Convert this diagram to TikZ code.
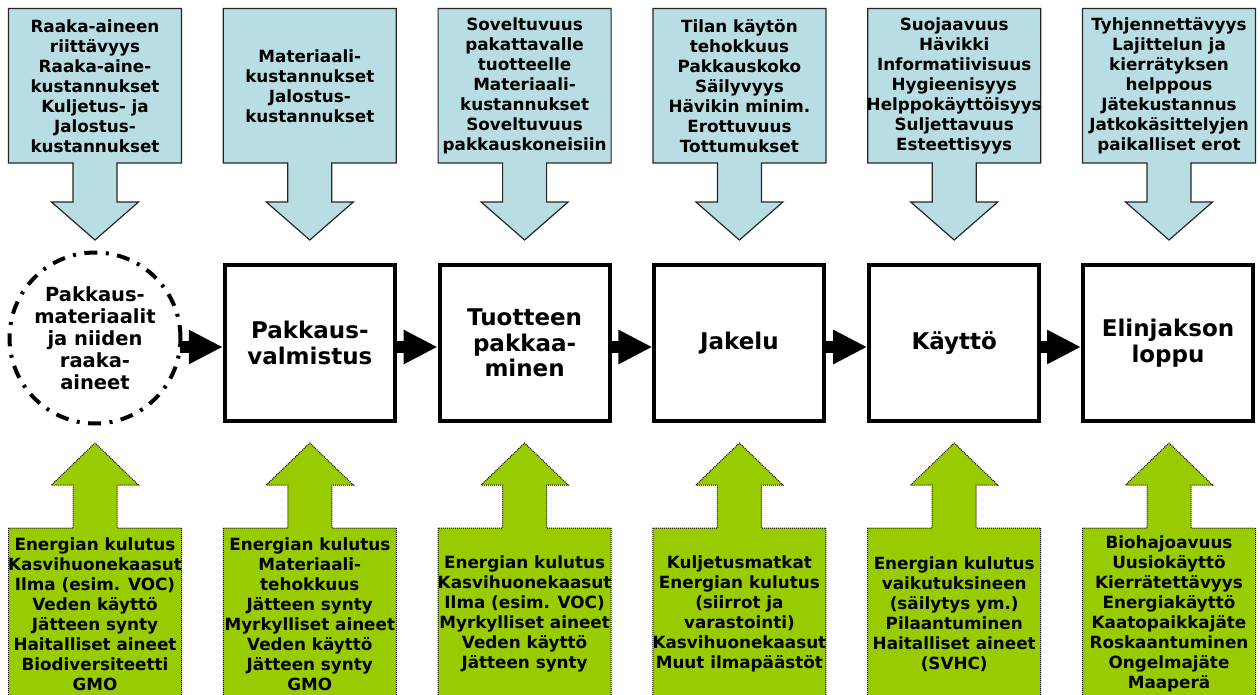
\documentclass[tikz,border=0pt]{standalone}
\usepackage{fontspec}
\setmainfont{DejaVu Sans}
\usetikzlibrary{arrows.meta}
\definecolor{callblue}{RGB}{184,222,228}
\definecolor{callgreen}{RGB}{153,204,0}
\tikzset{
  topcall/.style={fill=callblue, draw=black!85, line width=1.2pt},
  botcall/.style={fill=callgreen, draw=black, line width=1pt, dash pattern=on 1pt off 1pt},
  calltext/.style={align=center, font=\fontsize{16.8}{20}\selectfont\bfseries, inner sep=0pt},
  stage/.style={draw, line width=4pt, minimum width=170pt, minimum height=156pt, align=center, font=\fontsize{23}{25.5}\selectfont\bfseries, fill=white, inner sep=0pt},
  startcirc/.style={circle, draw, line width=4pt, dash pattern=on 13pt off 8.5pt on 3pt off 8.5pt, minimum size=171pt, align=center, font=\fontsize{19.5}{22}\selectfont\bfseries, inner sep=0pt},
  flow/.style={line width=12pt, -{Triangle[length=34pt, width=32pt]}},
}
\newcommand\topcallout[3]{%
  \draw[topcall] (#1-86.5,8.5) -- (#1+86.5,8.5) -- (#1+86.5,163) -- (#1+22,163) -- (#1+22,202) -- (#1+43.5,202) -- (#1,240) -- (#1-43.5,202) -- (#1-22,202) -- (#1-22,163) -- (#1-86.5,163) -- cycle;
  \node[calltext] (#2) at (#1,86) {#3};
}
\newcommand\botcallout[3]{%
  \draw[botcall] (#1-86.5,705) -- (#1-86.5,528) -- (#1-22,528) -- (#1-22,485) -- (#1-43.5,485) -- (#1,443) -- (#1+43.5,485) -- (#1+22,485) -- (#1+22,528) -- (#1+86.5,528) -- (#1+86.5,705) -- cycle;
  \node[calltext] (#2) at (#1,614) {#3};
}
\begin{document}
\begin{tikzpicture}[x=1pt, y=-1pt]
\useasboundingbox (0,0) rectangle (1260,695);
\clip (0,0) rectangle (1260,695);
\fill[white] (0,0) rectangle (1260,695);
% top callouts
\topcallout{95}{t0}{Raaka-aineen\\riittävyys\\Raaka-aine-\\kustannukset\\Kuljetus- ja\\Jalostus-\\kustannukset}
\topcallout{309.8}{t1}{Materiaali-\\kustannukset\\Jalostus-\\kustannukset}
\topcallout{524.6}{t2}{Soveltuvuus\\pakattavalle\\tuotteelle\\Materiaali-\\kustannukset\\Soveltuvuus\\pakkauskoneisiin}
\topcallout{739.4}{t3}{Tilan käytön\\tehokkuus\\Pakkauskoko\\Säilyvyys\\Hävikin minim.\\Erottuvuus\\Tottumukset}
\topcallout{954.2}{t4}{Suojaavuus\\Hävikki\\Informatiivisuus\\Hygieenisyys\\Helppokäyttöisyys\\Suljettavuus\\Esteettisyys}
\topcallout{1169}{t5}{Tyhjennettävyys\\Lajittelun ja\\kierrätyksen\\helppous\\Jätekustannus\\Jatkokäsittelyjen\\paikalliset erot}
% bottom callouts
\botcallout{95}{b0}{Energian kulutus\\Kasvihuonekaasut\\Ilma (esim. VOC)\\Veden käyttö\\Jätteen synty\\Haitalliset aineet\\Biodiversiteetti\\GMO}
\botcallout{309.8}{b1}{Energian kulutus\\Materiaali-\\tehokkuus\\Jätteen synty\\Myrkylliset aineet\\Veden käyttö\\Jätteen synty\\GMO}
\botcallout{524.6}{b2}{Energian kulutus\\Kasvihuonekaasut\\Ilma (esim. VOC)\\Myrkylliset aineet\\Veden käyttö\\Jätteen synty}
\botcallout{739.4}{b3}{Kuljetusmatkat\\Energian kulutus\\(siirrot ja\\varastointi)\\Kasvihuonekaasut\\Muut ilmapäästöt}
\botcallout{954.2}{b4}{Energian kulutus\\vaikutuksineen\\(säilytys ym.)\\Pilaantuminen\\Haitalliset aineet\\(SVHC)}
\botcallout{1169}{b5}{Biohajoavuus\\Uusiokäyttö\\Kierrätettävyys\\Energiakäyttö\\Kaatopaikkajäte\\Roskaantuminen\\Ongelmajäte\\Maaperä}
% stages
\node[startcirc] (s0) at (95,338) {Pakkaus-\\materiaalit\\ja niiden\\raaka-\\aineet};
\node[stage] (s1) at (309.8,343) {Pakkaus-\\valmistus};
\node[stage] (s2) at (524.6,343) {Tuotteen\\pakkaa-\\minen};
\node[stage] (s3) at (739.4,343) {Jakelu};
\node[stage] (s4) at (954.2,343) {Käyttö};
\node[stage] (s5) at (1168,343) {Elinjakson\\loppu};
\coordinate (ay) at (0,347);
\draw[flow] ([xshift=-3pt]s0.east |- ay) -- (s1.west |- ay);
\draw[flow] (s1.east |- ay) -- (s2.west |- ay);
\draw[flow] (s2.east |- ay) -- (s3.west |- ay);
\draw[flow] (s3.east |- ay) -- (s4.west |- ay);
\draw[flow] (s4.east |- ay) -- (s5.west |- ay);
\end{tikzpicture}
\end{document}
